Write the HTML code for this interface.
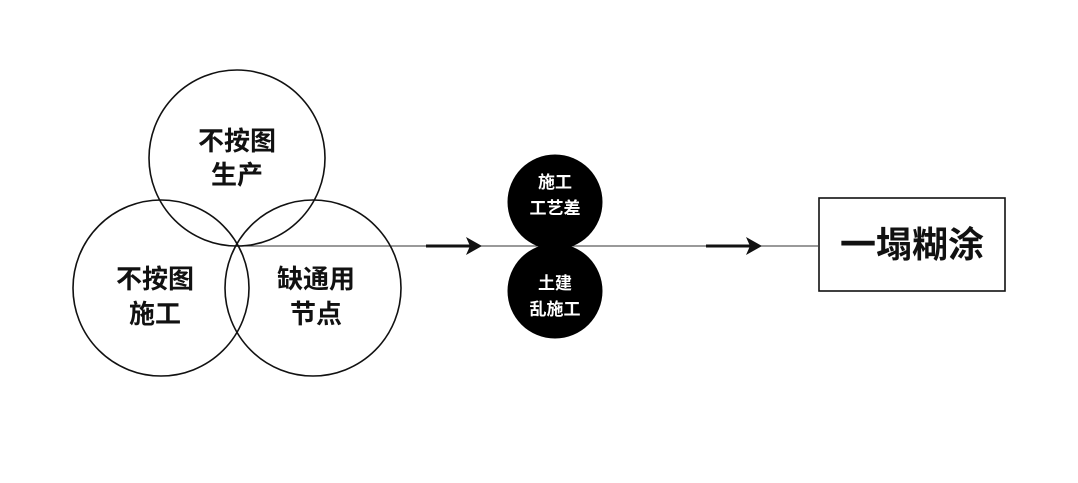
<!DOCTYPE html>
<html><head><meta charset="utf-8"><style>
body{margin:0;background:#fff;}
text{font-family:"Liberation Sans","Noto Sans CJK SC",sans-serif;font-weight:bold;}
</style></head><body>
<svg width="1078" height="478" viewBox="0 0 1078 478" xmlns="http://www.w3.org/2000/svg">
<rect width="1078" height="478" fill="#fff"/>
<line x1="237" y1="246" x2="818" y2="246" stroke="#333" stroke-width="1"/>
<g fill="none" stroke="#111" stroke-width="1.6">
<circle cx="237" cy="158" r="88"/>
<circle cx="161" cy="288" r="88"/>
<circle cx="313" cy="288" r="88"/>
</g>
<g stroke="#111" stroke-width="3" fill="#111">
<line x1="426" y1="246" x2="474" y2="246"/>
<line x1="706" y1="246" x2="754" y2="246"/>
</g>
<path d="M466 237 L482 246 L466 255 L470 246 Z" fill="#111"/>
<path d="M746 237 L762 246 L746 255 L750 246 Z" fill="#111"/>
<circle cx="555" cy="202" r="47.5" fill="#000"/>
<circle cx="555" cy="291" r="47.5" fill="#000"/>
<rect x="819" y="198" width="186" height="93" fill="#fff" stroke="#111" stroke-width="1.6"/>
<g font-size="26" fill="#111" text-anchor="middle">
<text x="237" y="150">不按图</text><text x="237" y="184">生产</text>
<text x="155" y="288">不按图</text><text x="155" y="323">施工</text>
<text x="316" y="288">缺通用</text><text x="316" y="323">节点</text>
</g>
<g font-size="17" fill="#fff" text-anchor="middle">
<text x="555" y="188">施工</text><text x="555" y="214">工艺差</text>
<text x="555" y="289">土建</text><text x="555" y="315">乱施工</text>
</g>
<text x="912" y="257" font-size="36" fill="#111" text-anchor="middle">一塌糊涂</text>
</svg>
</body></html>
